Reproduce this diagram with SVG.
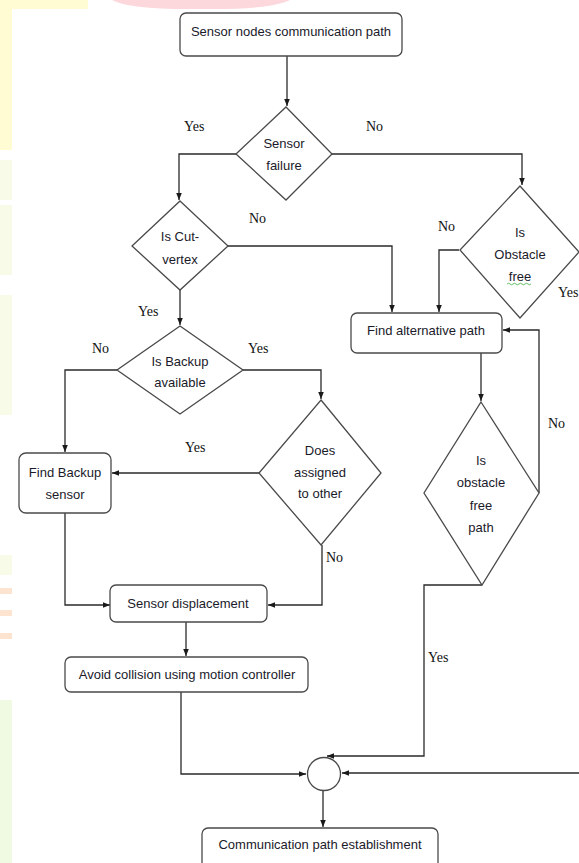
<svg xmlns="http://www.w3.org/2000/svg" width="579" height="863" viewBox="0 0 579 863">
<style>
.box{fill:#fff;stroke:#4a4a4a;stroke-width:1.3}
.dia{fill:#fff;stroke:#4a4a4a;stroke-width:1.3}
.t{font-family:"Liberation Sans",Arial,sans-serif;font-size:13px;fill:#1a1a2a;text-anchor:middle}
.lbl{font-family:"Liberation Serif","Times New Roman",serif;font-size:14px;fill:#111}
.c{fill:none;stroke:#2a2a2a;stroke-width:1.3}
</style>
<defs>
<marker id="arr" viewBox="0 0 10 10" refX="10" refY="5" markerWidth="7" markerHeight="7" orient="auto" markerUnits="userSpaceOnUse">
<path d="M0,1 L10,5 L0,9 z" fill="#1a1a1a"/>
</marker>
</defs>
<rect width="579" height="863" fill="#fff"/>
<g id="background">
<rect x="0" y="0" width="12" height="150" fill="#fffbd2"/>
<rect x="0" y="0" width="88" height="9" fill="#fffbd2"/>
<path d="M112,0 H290 Q270,10 200,9 Q130,10 112,0 z" fill="#fcd8dc"/>
<rect x="0" y="160" width="12" height="40" fill="#f8fbe8"/>
<rect x="0" y="205" width="12" height="70" fill="#f8fbe8"/>
<rect x="0" y="295" width="12" height="120" fill="#f8fbe8"/>
<rect x="0" y="555" width="12" height="20" fill="#f8fbe8"/>
<rect x="0" y="588" width="12" height="6" fill="#fde4d0"/>
<rect x="0" y="610" width="12" height="6" fill="#fde4d0"/>
<rect x="0" y="633" width="12" height="6" fill="#fde4d0"/>
<rect x="0" y="700" width="12" height="163" fill="#f0f9e2"/>
</g>
<g id="connectors">
<path class="c" d="M287,56 V106" marker-end="url(#arr)"/>
<path class="c" d="M236,154 H179 V200" marker-end="url(#arr)"/>
<path class="c" d="M332,154 H522 V185" marker-end="url(#arr)"/>
<path class="c" d="M228,246 H392 V312" marker-end="url(#arr)"/>
<path class="c" d="M459,250 H439 V312" marker-end="url(#arr)"/>
<path class="c" d="M180,290 V325" marker-end="url(#arr)"/>
<path class="c" d="M117,370 H65 V452" marker-end="url(#arr)"/>
<path class="c" d="M243,370 H321 V399" marker-end="url(#arr)"/>
<path class="c" d="M259,473 H112" marker-end="url(#arr)"/>
<path class="c" d="M322,545 V605 H268" marker-end="url(#arr)"/>
<path class="c" d="M65,513 V605 H110" marker-end="url(#arr)"/>
<path class="c" d="M186,622 V656" marker-end="url(#arr)"/>
<path class="c" d="M181,692 V774 H306" marker-end="url(#arr)"/>
<path class="c" d="M481,353 V401" marker-end="url(#arr)"/>
<path class="c" d="M539,493 V330 H503" marker-end="url(#arr)"/>
<path class="c" d="M482,585 H424 V756 H327" marker-end="url(#arr)"/>
<path class="c" d="M579,773 H342" marker-end="url(#arr)"/>
<path class="c" d="M323,791 V827" marker-end="url(#arr)"/>
<text class="lbl" x="184" y="131">Yes</text>
<text class="lbl" x="366" y="131">No</text>
<text class="lbl" x="249" y="223">No</text>
<text class="lbl" x="438" y="231">No</text>
<text class="lbl" x="558" y="297">Yes</text>
<text class="lbl" x="138" y="316">Yes</text>
<text class="lbl" x="92" y="353">No</text>
<text class="lbl" x="248" y="353">Yes</text>
<text class="lbl" x="185" y="452">Yes</text>
<text class="lbl" x="548" y="428">No</text>
<text class="lbl" x="326" y="562">No</text>
<text class="lbl" x="428" y="662">Yes</text>
</g>
<g id="start">
<rect class="box" x="180" y="13" width="222" height="43" rx="6"/>
<text class="t" x="291" y="35.5">Sensor nodes communication path</text>
</g>
<g id="sensor-failure">
<polygon class="dia" points="286,107 332,154 286,200 236,154"/>
<text class="t" x="284" y="148">Sensor</text>
<text class="t" x="284" y="170">failure</text>
</g>
<g id="cut-vertex">
<polygon class="dia" points="180,201 228,246 180,290 132,246"/>
<text class="t" x="180" y="241">Is Cut-</text>
<text class="t" x="180" y="264">vertex</text>
</g>
<g id="obstacle-free">
<polygon class="dia" points="520,186 579,252 520,318 460,250"/>
<text class="t" x="520" y="237">Is</text>
<text class="t" x="520" y="259">Obstacle</text>
<text class="t" x="520" y="281">free</text>
<path d="M507,284 q1.5,-1.5 3,0 t3,0 t3,0 t3,0 t3,0 t3,0 t3,0 t3,0" fill="none" stroke="#3fae3f" stroke-width="0.8"/>
</g>
<g id="find-alternative">
<rect class="box" x="351" y="313" width="151" height="40" rx="6"/>
<text class="t" x="426" y="334.5">Find alternative path</text>
</g>
<g id="backup-available">
<polygon class="dia" points="180,326 243,370 180,414 117,370"/>
<text class="t" x="180" y="366">Is Backup</text>
<text class="t" x="180" y="387">available</text>
</g>
<g id="assigned-other">
<polygon class="dia" points="321,400 381,473 321,545 259,473"/>
<text class="t" x="320" y="455">Does</text>
<text class="t" x="320" y="477">assigned</text>
<text class="t" x="320" y="498">to other</text>
</g>
<g id="obstacle-free-path">
<polygon class="dia" points="481,402 539,493 482,585 424,493"/>
<text class="t" x="481" y="465">Is</text>
<text class="t" x="481" y="487">obstacle</text>
<text class="t" x="481" y="510">free</text>
<text class="t" x="481" y="532">path</text>
</g>
<g id="find-backup">
<rect class="box" x="19" y="453" width="92" height="60" rx="7"/>
<text class="t" x="65" y="477">Find Backup</text>
<text class="t" x="65" y="499">sensor</text>
</g>
<g id="sensor-displacement">
<rect class="box" x="110" y="585" width="157" height="37" rx="6"/>
<text class="t" x="188" y="608">Sensor displacement</text>
</g>
<g id="avoid-collision">
<rect class="box" x="65" y="657" width="243" height="35" rx="6"/>
<text class="t" x="187" y="679">Avoid collision using motion controller</text>
</g>
<g id="join">
<circle class="dia" cx="324" cy="774" r="16.5"/>
</g>
<g id="establishment">
<rect class="box" x="202" y="828" width="236" height="45" rx="6"/>
<text class="t" x="320" y="849">Communication path establishment</text>
</g>
</svg>
